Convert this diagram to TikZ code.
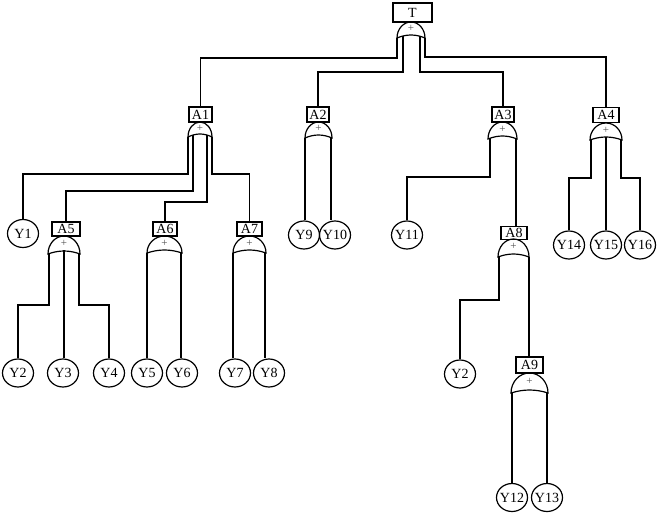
\documentclass[tikz,border=0pt]{standalone}
\usepackage{fontspec}
\setmainfont{Liberation Serif}
\usetikzlibrary{shapes.geometric,calc}
\tikzset{
  box/.style={draw, line width=1.2pt, inner sep=0pt, minimum height=15pt, font=\fontsize{14}{14}\selectfont},
  event/.style={draw, ellipse, line width=1.2pt, inner ysep=0pt, inner xsep=-3pt, minimum width=31pt, minimum height=28pt, font=\fontsize{14}{14}\selectfont},
  gatestyle/.style={draw, line width=1.2pt},
  plus/.style={inner sep=0pt, text=black!70, font=\fontsize{11}{11}\selectfont},
  wire/.style={line width=1.4pt}
}
\newcommand\orgate[4]{% L R top bottom
  \draw[gatestyle] (#1,#4) .. controls (#1,{#4-0.552*(#4-#3)}) and ({(#1+#2)/2-0.276*(#2-#1)},#3) .. ({(#1+#2)/2},#3)
    .. controls ({(#1+#2)/2+0.276*(#2-#1)},#3) and (#2,{#4-0.552*(#4-#3)}) .. (#2,#4)
    .. controls ({(#1+#2)/2+(#2-#1)/6},{#4-4}) and ({(#1+#2)/2-(#2-#1)/6},{#4-4}) .. cycle;
  \node[plus] at ({(#1+#2)/2},{#3+0.42*(#4-#3)}) {+};
}
\begin{document}
\begin{tikzpicture}[x=1pt,y=-1pt]
\useasboundingbox (0,0) rectangle (658,515);

% boxes
\node[box, minimum width=39pt, minimum height=19pt] (T) at (412.5,12.5) {T};
\node[box, minimum width=23pt] (A1) at (200.5,114.5) {A1};
\node[box, minimum width=22pt] (A2) at (318,114.5) {A2};
\node[box, minimum width=22pt] (A3) at (503,114.5) {A3};
\node[box, minimum width=26pt] (A4) at (606,115) {A4};
\node[box, minimum width=28pt, minimum height=14pt] (A5) at (66,229) {A5};
\node[box, minimum width=24pt, minimum height=14pt] (A6) at (165,229) {A6};
\node[box, minimum width=25pt, minimum height=14pt] (A7) at (249.5,229) {A7};
\node[box, minimum width=26pt, minimum height=13pt] (A8) at (514,233) {A8};
\node[box, minimum width=27pt, minimum height=16pt] (A9) at (529.5,365) {A9};

% gates
\orgate{397}{425}{22}{38}
\orgate{188}{212}{122}{137}
\orgate{305}{332}{122}{138}
\orgate{488}{517}{122}{139}
\orgate{590}{622}{123}{140}
\orgate{48}{80}{236}{254}
\orgate{147}{182}{236}{253}
\orgate{233}{266}{236}{253}
\orgate{498}{529}{239}{257}
\orgate{511}{548}{373}{393}

% basic events
\node[event] (Y1) at (23,233.5) {Y1};
\node[event] (Y2) at (18,373) {Y2};
\node[event] (Y3) at (63,373) {Y3};
\node[event] (Y4) at (109,373) {Y4};
\node[event] (Y5) at (147,373) {Y5};
\node[event] (Y6) at (182,373) {Y6};
\node[event] (Y7) at (235,373) {Y7};
\node[event] (Y8) at (269,373) {Y8};
\node[event] (Y9) at (304,235) {Y9};
\node[event] (Y10) at (335,235) {Y10};
\node[event] (Y11) at (407,235) {Y11};
\node[event] (Y14) at (569,245) {Y14};
\node[event] (Y15) at (606,245) {Y15};
\node[event] (Y16) at (640,245) {Y16};
\node[event] (Y2b) at (460,374) {Y2};
\node[event] (Y12) at (512,497.5) {Y12};
\node[event] (Y13) at (547,497.5) {Y13};

% gate outputs
\coordinate (T1) at (397,38);  \coordinate (T2) at (403,36);
\coordinate (T3) at (420,36);  \coordinate (T4) at (425,38);
\coordinate (a1) at (188,137); \coordinate (a2) at (193,135);
\coordinate (a3) at (207,135); \coordinate (a4) at (212,137);
\coordinate (b1) at (305,138); \coordinate (b2) at (331,138);
\coordinate (c1) at (490,138); \coordinate (c2) at (516,138);
\coordinate (d1) at (591,140); \coordinate (d2) at (606,137); \coordinate (d3) at (621,140);
\coordinate (e1) at (49,254);  \coordinate (e2) at (64,250); \coordinate (e3) at (79,254);
\coordinate (f1) at (147,253); \coordinate (f2) at (181,253);
\coordinate (g1) at (233,253); \coordinate (g2) at (265,253);
\coordinate (h1) at (499,257); \coordinate (h2) at (529,257);
\coordinate (k1) at (512,393); \coordinate (k2) at (547,393);

% connectors
\draw[wire] (T1) -- ++(0,20) -| (A1.north);
\draw[wire] (T2) -- ++(0,36) -| (A2.north);
\draw[wire] (T3) -- ++(0,36) -| (A3.north);
\draw[wire] (T4) -- ++(0,19) -| (A4.north);

\draw[wire] (a1) -- ++(0,37) -| (Y1.north);
\draw[wire] (a2) -- ++(0,56) -| (A5.north);
\draw[wire] (a3) -- ++(0,67) -| (A6.north);
\draw[wire] (a4) -- ++(0,37) -| (A7.north);

\draw[wire] (b1) -- (b1 |- Y9.north);
\draw[wire] (b2) -- (b2 |- Y10.north);

\draw[wire] (c1) -- ++(0,39) -| (Y11.north);
\draw[wire] (c2) -- (c2 |- A8.north);

\draw[wire] (d1) -- ++(0,38) -| (Y14.north);
\draw[wire] (d2) -- (d2 |- Y15.north);
\draw[wire] (d3) -- ++(0,38) -| (Y16.north);

\draw[wire] (e1) -- ++(0,51) -| (Y2.north);
\draw[wire] (e2) -- (e2 |- Y3.north);
\draw[wire] (e3) -- ++(0,51) -| (Y4.north);

\draw[wire] (f1) -- (f1 |- Y5.north);
\draw[wire] (f2) -- (f2 |- Y6.north);
\draw[wire] (g1) -- (g1 |- Y7.north);
\draw[wire] (g2) -- (g2 |- Y8.north);

\draw[wire] (h1) -- ++(0,43) -| (Y2b.north);
\draw[wire] (h2) -- (h2 |- A9.north);

\draw[wire] (k1) -- (k1 |- Y12.north);
\draw[wire] (k2) -- (k2 |- Y13.north);
\end{tikzpicture}
\end{document}
